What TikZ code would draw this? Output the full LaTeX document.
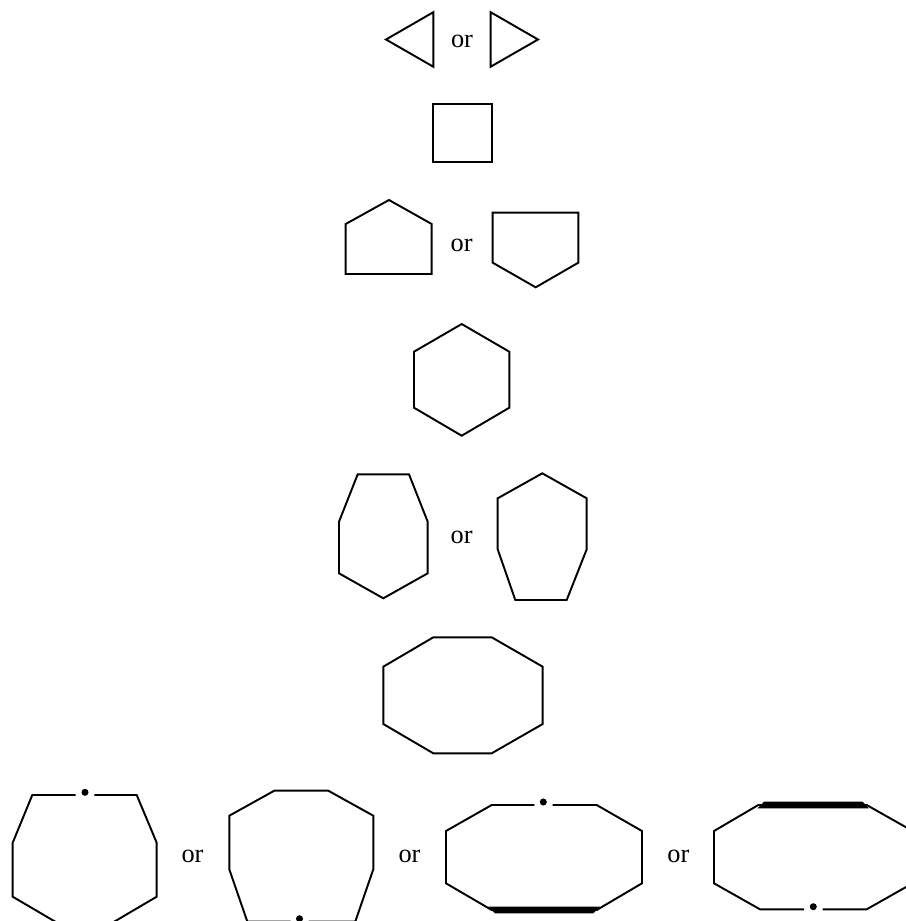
\documentclass[tikz,border=0pt]{standalone}
\usepackage{fontspec}
\setmainfont{Liberation Serif}
\usepackage{tikz}
\usetikzlibrary{calc}
\tikzset{
  outline/.style={draw, line width=1.1pt, line join=miter},
  ortext/.style={font=\fontsize{15}{18}\selectfont, inner sep=0pt},
  thickbar/.style={fill=black},
  vdot/.style={fill=black}
}

\begin{document}
\begin{tikzpicture}[x=0.02cm, y=-0.02cm]
    \useasboundingbox (0,0) rectangle (906,921);
    \clip (0,0) rectangle (906,921);
    % the "or" labels
    \foreach \xo/\yo [count=\k] in {462/41, 461.7/245, 461.7/537.5, 192.5/856, 409.5/856, 678.3/856}
      \node[ortext] (or\k) at (\xo,\yo) {or};
    % triangles
    \draw[outline] (386,39.5) -- (433.3,12.2) -- (433.3,66.7) -- cycle;
    \draw[outline] (538,39.5) -- (490.7,12.2) -- (490.7,66.7) -- cycle;
    % square
    \draw[outline] (433.3,104.3) rectangle (491.7,161.7);
    % pentagons
    \draw[outline] (345.7,274) -- (345.7,224) -- (389,200) -- (431.7,224) -- (431.7,274) -- cycle;
    \draw[outline] (492.7,212.7) -- (578.3,212.7) -- (578.3,262.7) -- (535.7,287.3) -- (492.7,262.7) -- cycle;
    % hexagon
    \draw[outline] (461.7,324) -- (509.3,351.7) -- (509.3,407.7) -- (461.7,435.7) -- (414,407.7) -- (414,351.7) -- cycle;
    % heptagons
    \draw[outline] (357.7,474.3) -- (409,474.3) -- (427.7,521.7) -- (427.7,573.3) -- (383.3,598.3) -- (339,573.3) -- (339,521.7) -- cycle;
    \draw[outline] (542.3,473.3) -- (586.7,498.3) -- (586.7,549.3) -- (566.7,600) -- (515.3,600) -- (497.7,549.3) -- (497.7,498.3) -- cycle;
    % octagon
    \draw[outline] (433.3,637.3) -- (491.7,637.3) -- (542.7,666.7) -- (542.7,724) -- (491.7,753.3) -- (433.3,753.3) -- (383.3,724) -- (383.3,666.7) -- cycle;
    % bottom row, 1
    \draw[outline] (75.7,795) -- (32.3,795) -- (12.7,842.7) -- (12.7,896.7) -- (84.7,939) -- (156.7,896.7) -- (156.7,842.7) -- (136.7,795) -- (94.3,795);
    \fill[vdot] (85,792.3) circle[radius=2pt];
    % bottom row, 2
    \draw[outline] (290.5,921.5) -- (247.3,921.5) -- (229.3,869.3) -- (229.3,815.7) -- (274.3,790.7) -- (328.3,790.7) -- (373.3,815.7) -- (373.3,869.3) -- (355.3,921.5) -- (308.5,921.5);
    \fill[vdot] (299.5,918.7) circle[radius=2pt];
    % bottom row, 3
    \draw[outline] (534.3,805) -- (491.7,805) -- (446,831) -- (446,883.3) -- (491.7,910) -- (596.7,910) -- (642,883.3) -- (642,831) -- (596.7,805) -- (552.7,805);
    \fill[vdot] (543.3,802) circle[radius=2pt];
    \fill[thickbar] (488.3,906.7) -- (600,906.7) -- (593.3,913.3) -- (495,913.3) -- cycle;
    % bottom row, 4
    \draw[outline] (804,909.3) -- (760,909.3) -- (714,883.3) -- (714,831) -- (758.3,805) -- (866.7,805) -- (912.6,831) -- (912.6,883.3) -- (866.7,909.3) -- (822.7,909.3);
    \fill[vdot] (813.3,906.7) circle[radius=2pt];
    \fill[thickbar] (764,801.7) -- (862.6,801.7) -- (869,808.3) -- (757.6,808.3) -- cycle;
\end{tikzpicture}
\end{document}
